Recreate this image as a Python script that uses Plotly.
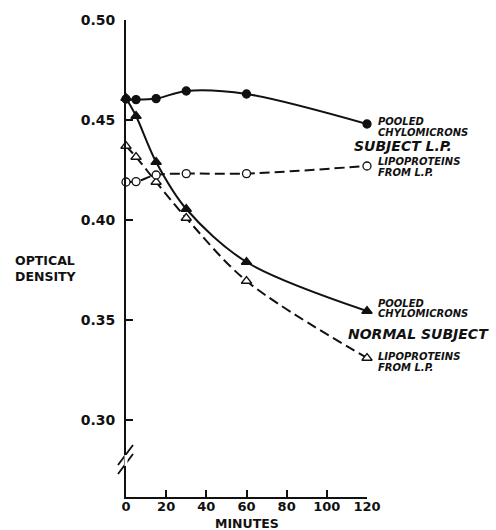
import plotly.graph_objects as go

# Time points (minutes)
minutes = [0, 5, 15, 30, 60, 120]

# Optical density readings
lp_chylo = [0.4605, 0.4602, 0.4607, 0.4645, 0.4630, 0.4480]
lp_lipo = [0.4190, 0.4192, 0.4225, 0.4232, 0.4232, 0.4270]
norm_chylo = [0.4610, 0.4520, 0.4290, 0.4055, 0.3790, 0.3545]
norm_lipo = [0.4370, 0.4315, 0.4190, 0.4010, 0.3695, 0.3310]

x_ticks = [0, 20, 40, 60, 80, 100, 120]
y_ticks = [0.30, 0.35, 0.40, 0.45, 0.50]
y_tick_text = ["0.30", "0.35", "0.40", "0.45", "0.50"]

FONT = "DejaVu Sans"
INK = "#111111"
PLOT_W = 241  # plot area width in px
PLOT_H = 477  # plot area height in px

fig = go.Figure()

def add_series(y, dash, symbol, size, filled):
    fig.add_trace(go.Scatter(
        x=minutes, y=y, mode="lines+markers",
        line=dict(color=INK, width=2, dash=dash, shape="spline", smoothing=0.9),
        marker=dict(symbol=symbol, size=size, color=INK if filled else "white",
                    line=dict(color=INK, width=1.3)),
        cliponaxis=False, showlegend=False, hoverinfo="skip",
    ))

add_series(norm_lipo, "10px,5px", "triangle-up", 9, False)
add_series(lp_lipo, "10px,5px", "circle", 8, False)
add_series(norm_chylo, "solid", "triangle-up", 9, True)
add_series(lp_chylo, "solid", "circle", 8, True)

small = dict(family=FONT, size=10, color=INK, weight=700, style="italic")
big = dict(family=FONT, size=14, color=INK, weight=700, style="italic")

# (text, left edge offset from y axis in px, y value, font)
labels = [
    ("POOLED", 251, 0.4495, small),
    ("CHYLOMICRONS", 251, 0.4440, small),
    ("SUBJECT L.P.", 227, 0.4370, big),
    ("LIPOPROTEINS", 251, 0.4295, small),
    ("FROM L.P.", 251, 0.4240, small),
    ("POOLED", 251, 0.3585, small),
    ("CHYLOMICRONS", 251, 0.3535, small),
    ("NORMAL SUBJECT", 221, 0.3430, big),
    ("LIPOPROTEINS", 251, 0.3320, small),
    ("FROM L.P.", 251, 0.3265, small),
]
for text, dx, yv, f in labels:
    fig.add_annotation(x=dx / PLOT_W, y=yv, xref="paper", yref="y", text=text,
                       showarrow=False, xanchor="left", yanchor="middle",
                       align="left", font=f, borderpad=0)

fig.add_annotation(x=-113 / PLOT_W, y=0.376, xref="paper", yref="y",
                   text="OPTICAL<br>DENSITY", showarrow=False, xanchor="left",
                   yanchor="middle", align="left",
                   font=dict(family=FONT, size=12.5, color=INK, weight=700))

fig.add_annotation(x=60, y=-26 / PLOT_H, xref="x", yref="paper", text="MINUTES",
                   showarrow=False, xanchor="center", yanchor="middle",
                   borderpad=0,
                   font=dict(family=FONT, size=12.5, color=INK, weight=700))

# Axis break marks on the y axis
for dy in (0.0, 0.0045):
    fig.add_shape(type="line", xref="paper", yref="y",
                  x0=-8 / PLOT_W, x1=7 / PLOT_W, y0=0.2730 + dy, y1=0.2830 + dy,
                  line=dict(color=INK, width=1.8))
fig.add_shape(type="line", xref="paper", yref="y", x0=0, x1=0,
              y0=0.2770, y1=0.2825, line=dict(color="white", width=3))

fig.update_xaxes(range=[0, 120], tickvals=x_ticks, ticks="inside", ticklen=7,
                 tickwidth=1.8, tickcolor=INK, showline=True, linecolor=INK,
                 linewidth=2, showgrid=False, zeroline=False,
                 ticklabelstandoff=-4,
                 tickfont=dict(family=FONT, size=13, color=INK, weight=700))
fig.update_yaxes(range=[0.2615, 0.50], tickvals=y_ticks, ticktext=y_tick_text,
                 ticks="inside", ticklen=7, tickwidth=1.8, tickcolor=INK,
                 showline=True, linecolor=INK, linewidth=2, showgrid=False,
                 zeroline=False, ticklabelstandoff=6,
                 tickfont=dict(family=FONT, size=14, color=INK, weight=700))

fig.update_layout(width=496, height=530, margin=dict(l=126, r=129, t=20, b=33),
                  plot_bgcolor="white", paper_bgcolor="white")

fig.write_html("out.html")
